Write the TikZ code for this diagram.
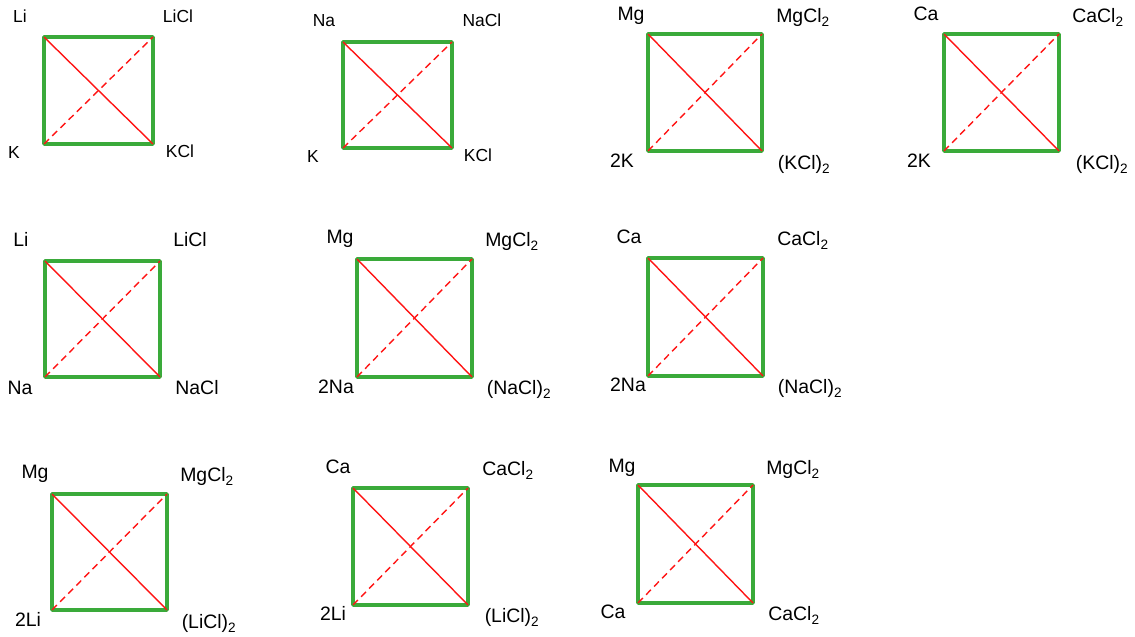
\documentclass[tikz,border=0pt]{standalone}
\usepackage{fontspec}
\setmainfont{Liberation Sans}
\usetikzlibrary{calc}

\definecolor{sqgreen}{RGB}{58,170,58}
\definecolor{diagred}{RGB}{255,20,20}

% four named corners of one square: name, left, top, right, bottom
\newcommand{\SetSquare}[5]{%
  \coordinate (#1-tl) at (#2,#3);
  \coordinate (#1-tr) at (#4,#3);
  \coordinate (#1-br) at (#4,#5);
  \coordinate (#1-bl) at (#2,#5);
}

\begin{document}
\begin{tikzpicture}[x=1bp, y=-1bp]
    \tikzset{side/.style = {draw=sqgreen, line width=3.8bp, line join=round},
      diag/.style = {draw=diagred, line width=1.4bp},
      cross/.style = {diag, dash pattern=on 7bp off 4.5bp},
      lab/.style = {font=\fontsize{19.5}{21}\selectfont, inner sep=0pt,
        text height=1.6ex, text depth=.3ex, yshift=-2.5bp},
      smalllab/.style = {lab, font=\fontsize{17.5}{19}\selectfont}}
    \useasboundingbox (0,0) rectangle (1135,637);
    % row 1
    \SetSquare{lik}{44}{37}{153}{144}
    \SetSquare{nak}{343}{42}{452}{148}
    \SetSquare{mgk}{648}{34}{762}{151}
    \SetSquare{cak}{944}{34}{1059}{151}
    % row 2
    \SetSquare{lina}{45}{261}{160}{377}
    \SetSquare{mgna}{357}{259}{472}{377}
    \SetSquare{cana}{648}{258}{763}{376}
    % row 3
    \SetSquare{mgli}{52}{494}{167}{610}
    \SetSquare{cali}{353}{488}{468}{605}
    \SetSquare{mgca}{638}{485}{753}{603}
    \foreach \s in {lik,nak,mgk,cak,lina,mgna,cana,mgli,cali,mgca} {
      \draw[side] (\s-tl) -- (\s-tr) -- (\s-br) -- (\s-bl) -- cycle;
      \draw[diag] (\s-tl) -- (\s-br);
      \draw[cross] (\s-bl) -- (\s-tr);
    }
    \node[smalllab] (lik-a) at (20,17) {Li};
    \node[smalllab] (lik-b) at (178,17) {LiCl};
    \node[smalllab] (lik-c) at (14,153) {K};
    \node[smalllab] (lik-d) at (180,152) {KCl};
    \node[smalllab] (nak-a) at (324,21) {Na};
    \node[smalllab] (nak-b) at (482,21) {NaCl};
    \node[smalllab] (nak-c) at (313,157) {K};
    \node[smalllab] (nak-d) at (478,156) {KCl};
    \node[lab] (mgk-a) at (631,15) {Mg};
    \node[lab] (mgk-b) at (803,17) {MgCl\textsubscript{2}};
    \node[lab] (mgk-c) at (622,162) {2K};
    \node[lab] (mgk-d) at (804,164) {(KCl)\textsubscript{2}};
    \node[lab] (cak-a) at (926,15) {Ca};
    \node[lab] (cak-b) at (1098,17) {CaCl\textsubscript{2}};
    \node[lab] (cak-c) at (919,162) {2K};
    \node[lab] (cak-d) at (1102,164) {(KCl)\textsubscript{2}};
    \node[lab] (lina-a) at (21,241) {Li};
    \node[lab] (lina-b) at (190,241) {LiCl};
    \node[lab] (lina-c) at (20,389) {Na};
    \node[lab] (lina-d) at (197,389) {NaCl};
    \node[lab] (mgna-a) at (340,238) {Mg};
    \node[lab] (mgna-b) at (512,241) {MgCl\textsubscript{2}};
    \node[lab] (mgna-c) at (336,388) {2Na};
    \node[lab] (mgna-d) at (519,389) {(NaCl)\textsubscript{2}};
    \node[lab] (cana-a) at (629,238) {Ca};
    \node[lab] (cana-b) at (803,240) {CaCl\textsubscript{2}};
    \node[lab] (cana-c) at (628,386) {2Na};
    \node[lab] (cana-d) at (810,388) {(NaCl)\textsubscript{2}};
    \node[lab] (mgli-a) at (35,473) {Mg};
    \node[lab] (mgli-b) at (207,476) {MgCl\textsubscript{2}};
    \node[lab] (mgli-c) at (28,621) {2Li};
    \node[lab] (mgli-d) at (209,623) {(LiCl)\textsubscript{2}};
    \node[lab] (cali-a) at (338,468) {Ca};
    \node[lab] (cali-b) at (508,470) {CaCl\textsubscript{2}};
    \node[lab] (cali-c) at (333,615) {2Li};
    \node[lab] (cali-d) at (512,617) {(LiCl)\textsubscript{2}};
    \node[lab] (mgca-a) at (622,467) {Mg};
    \node[lab] (mgca-b) at (793,469) {MgCl\textsubscript{2}};
    \node[lab] (mgca-c) at (613,613) {Ca};
    \node[lab] (mgca-d) at (794,615) {CaCl\textsubscript{2}};
\end{tikzpicture}
\end{document}
